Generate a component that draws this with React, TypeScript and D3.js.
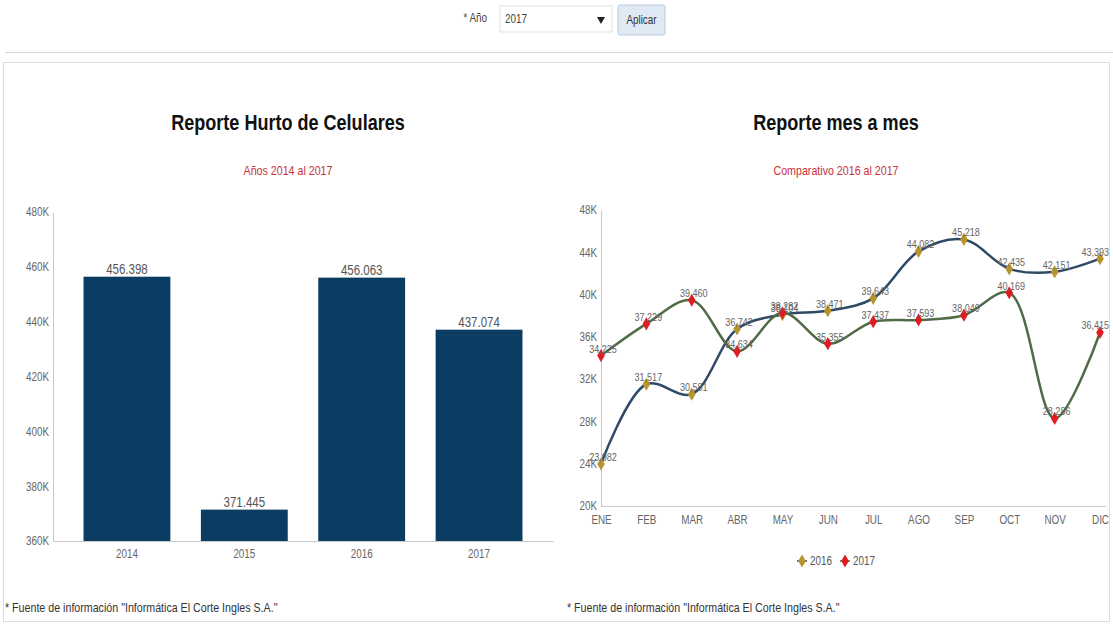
import React, { useEffect, useRef } from 'react'
import * as d3 from 'd3'

// data
const years = ['2014', '2015', '2016', '2017']
const yearTotals = [456398, 371445, 456063, 437074]
const yearLabels = ['456.398', '371.445', '456.063', '437.074']
const barTicks = [360000, 380000, 400000, 420000, 440000, 460000, 480000]

const months = ['ENE', 'FEB', 'MAR', 'ABR', 'MAY', 'JUN', 'JUL', 'AGO', 'SEP', 'OCT', 'NOV', 'DIC']
const series2016 = [23982, 31517, 30581, 36742, 38104, 38471, 39643, 44082, 45218, 42435, 42151, 43393]
const series2017 = [34225, 37229, 39460, 34634, 38282, 35355, 37437, 37593, 38049, 40169, 28286, 36415]
const lineTicks = [20000, 24000, 28000, 32000, 36000, 40000, 44000, 48000]
const seriesNames = ['2016', '2017']

const FONT = "'Liberation Sans', Arial, sans-serif"
const barColor = '#0b3d62'
const lineColors = ['#2e4a66', '#506b45']
const markerColors = ['#b8952c', '#e01b22']
const axisColor = '#c8c8c8'
const tickText = '#666'

// narrow look: squeeze text horizontally
const narrow = (sel: d3.Selection<SVGTextElement, any, any, any>, k = 0.82) => {
  sel.each(function () {
    const t = this as SVGTextElement
    const w = t.getComputedTextLength()
    if (w > 0) t.setAttribute('textLength', String(w * k))
    t.setAttribute('lengthAdjust', 'spacingAndGlyphs')
  })
}

const App: React.FC = () => {
  const svgRef = useRef<SVGSVGElement | null>(null)

  useEffect(() => {
    if (!svgRef.current) return
    const svg = d3.select(svgRef.current)
    svg.selectAll('*').remove()
    svg.style('font-family', FONT)

    // ----------- top controls -----------
    const top = svg.append('g')
    top.append('text').attr('x', 487).attr('y', 22).attr('text-anchor', 'end')
      .attr('font-size', 12).attr('fill', '#444').text('* Año')
    top.append('rect').attr('x', 500).attr('y', 6).attr('width', 112).attr('height', 26)
      .attr('fill', '#fff').attr('stroke', '#e2e2e2')
    top.append('text').attr('x', 505).attr('y', 23).attr('font-size', 12).attr('fill', '#444').text('2017')
    top.append('path').attr('d', 'M597,17 L605,17 L601,24 Z').attr('fill', '#222')
    top.append('rect').attr('x', 618).attr('y', 5).attr('width', 47).attr('height', 30).attr('rx', 2)
      .attr('fill', '#dfe9f4').attr('stroke', '#b9c9da')
    top.append('text').attr('x', 641.5).attr('y', 24).attr('text-anchor', 'middle')
      .attr('font-size', 12).attr('fill', '#333').text('Aplicar')
    svg.append('line').attr('x1', 5).attr('x2', 1113).attr('y1', 52.5).attr('y2', 52.5)
      .attr('stroke', '#d6d6d6')
    svg.append('rect').attr('x', 3.5).attr('y', 62.5).attr('width', 1106).attr('height', 559)
      .attr('fill', 'none').attr('stroke', '#dcdcdc')

    // ----------- titles -----------
    const titles = [
      { x: 288, t: 'Reporte Hurto de Celulares', s: 'Años 2014 al 2017' },
      { x: 836, t: 'Reporte mes a mes', s: 'Comparativo 2016 al 2017' },
    ]
    titles.forEach((d) => {
      svg.append('text').attr('x', d.x).attr('y', 130).attr('text-anchor', 'middle')
        .attr('font-size', 22).attr('font-weight', 'bold').attr('fill', '#111').text(d.t)
      svg.append('text').attr('x', d.x).attr('y', 175).attr('text-anchor', 'middle')
        .attr('font-size', 13).attr('fill', '#c8323a').text(d.s)
    })

    // ----------- bar chart -----------
    const bx = d3.scaleBand().domain(years).range([53, 553]).padding(0.26)
    const by = d3.scaleLinear().domain([360000, 480000]).range([541, 212])
    const bar = svg.append('g')
    bar.selectAll('rect.bar').data(yearTotals).enter().append('rect')
      .attr('class', 'bar')
      .attr('x', (_, i) => bx(years[i])!)
      .attr('y', (d) => by(d))
      .attr('width', bx.bandwidth())
      .attr('height', (d) => by(360000) - by(d))
      .attr('fill', barColor)
    bar.selectAll('text.val').data(yearTotals).enter().append('text')
      .attr('class', 'val')
      .attr('x', (_, i) => bx(years[i])! + bx.bandwidth() / 2)
      .attr('y', (d) => by(d) - 3)
      .attr('text-anchor', 'middle').attr('font-size', 14).attr('fill', '#555')
      .text((_, i) => yearLabels[i])
    const byAxis = bar.append('g').attr('transform', 'translate(53,0)')
      .call(d3.axisLeft(by).tickValues(barTicks).tickSize(0).tickPadding(4)
        .tickFormat((d) => `${(d as number) / 1000}K`))
    const bxAxis = bar.append('g').attr('transform', 'translate(0,541)')
      .call(d3.axisBottom(bx).tickSize(0).tickPadding(8))
    ;[byAxis, bxAxis].forEach((a) => {
      a.select('.domain').attr('stroke', axisColor)
      a.selectAll('text').attr('fill', tickText).attr('font-size', 12).attr('font-family', FONT)
    })

    // ----------- line chart -----------
    const lx = d3.scalePoint().domain(months).range([601, 1100])
    const ly = d3.scaleLinear().domain([20000, 48000]).range([506, 210])
    const lc = svg.append('g')
    const lyAxis = lc.append('g').attr('transform', 'translate(601,0)')
      .call(d3.axisLeft(ly).tickValues(lineTicks).tickSize(0).tickPadding(4)
        .tickFormat((d) => `${(d as number) / 1000}K`))
    const lxAxis = lc.append('g').attr('transform', 'translate(0,506)')
      .call(d3.axisBottom(lx).tickSize(0).tickPadding(9))
    lxAxis.select('.domain').attr('d', 'M601,0.5H1106')
    ;[lyAxis, lxAxis].forEach((a) => {
      a.select('.domain').attr('stroke', axisColor)
      a.selectAll('text').attr('fill', tickText).attr('font-size', 12).attr('font-family', FONT)
    })

    const line = d3.line<number>()
      .x((_, i) => lx(months[i])!)
      .y((d) => ly(d))
      .curve(d3.curveCatmullRom.alpha(0.5))
    const diamond = d3.symbol().type(d3.symbolDiamond).size(50)
    const fmt = d3.format(',')

    const allSeries = [series2016, series2017]
    allSeries.forEach((s, k) => {
      lc.append('path').datum(s).attr('d', line).attr('fill', 'none')
        .attr('stroke', lineColors[k]).attr('stroke-width', 2.5)
    })
    allSeries.forEach((s, k) => {
      const g = lc.append('g')
      g.selectAll('path.m').data(s).enter().append('path')
        .attr('class', 'm')
        .attr('d', diamond)
        .attr('transform', (d, i) => `translate(${lx(months[i])},${ly(d)})`)
        .attr('fill', markerColors[k])
      g.selectAll('text').data(s).enter().append('text')
        .attr('class', 'lbl')
        .attr('x', (_, i) => (i === s.length - 1 ? 1109 : lx(months[i])! + 2))
        .attr('y', (d) => ly(d) - 3)
        .attr('text-anchor', (_, i) => (i === s.length - 1 ? 'end' : 'middle'))
        .attr('font-size', 11).attr('fill', '#666')
        .text((d) => fmt(d))
    })

    // legend
    const leg = lc.append('g').attr('transform', 'translate(0,561)')
    seriesNames.forEach((n, k) => {
      const x0 = 797 + k * 43
      leg.append('line').attr('x1', x0).attr('x2', x0 + 10).attr('y1', 0).attr('y2', 0)
        .attr('stroke', lineColors[k]).attr('stroke-width', 1.5)
      leg.append('path').attr('d', diamond).attr('transform', `translate(${x0 + 5},0)`)
        .attr('fill', markerColors[k])
      leg.append('text').attr('x', x0 + 13).attr('y', 4).attr('font-size', 12)
        .attr('fill', '#555').text(n)
    })

    // footnotes
    ;[5, 567].forEach((x) => {
      svg.append('text').attr('class', 'foot').attr('x', x).attr('y', 612)
        .attr('font-size', 13).attr('fill', '#333')
        .text('* Fuente de información "Informática El Corte Ingles S.A."')
    })

    // give every text the condensed look of the reference
    narrow(svg.selectAll<SVGTextElement, any>('text'))
  }, [])

  return (
    <div style={{ position: 'absolute', left: 0, top: 0 }}>
      <svg ref={svgRef} width={1113} height={626} style={{ display: 'block', background: '#fff' }} />
    </div>
  )
}

export default App
